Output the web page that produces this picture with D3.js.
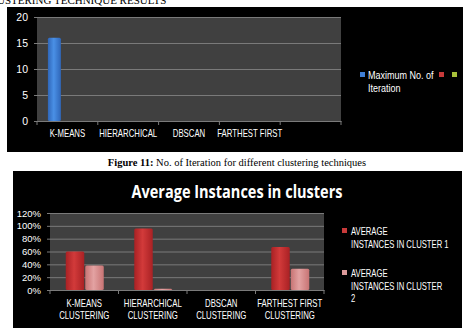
<!DOCTYPE html>
<html>
<head>
<meta charset="utf-8">
<script src="https://cdn.jsdelivr.net/npm/d3@7"></script>
<style>
  body { margin: 0; background: #fff; }
  svg { display: block; }
  .axis path, .axis line { stroke: #7a7a7a; }
  .axis text { fill: #fff; font-family: "Liberation Sans", Arial, sans-serif; }
</style>
</head>
<body>
<div class="chart"></div>
<script>
// Chart data.
const iterCategories = ["K-MEANS", "HIERARCHICAL", "DBSCAN", "FARTHEST FIRST", " "];
const iterValues = [16, 0, 0, 0, 0];
const iterTicks = [0, 5, 10, 15, 20];
const iterLegend = ["Maximum No. of", "Iteration"];

const clusterCategories = [
  ["K-MEANS", "CLUSTERING"],
  ["HIERARCHICAL", "CLUSTERING"],
  ["DBSCAN", "CLUSTERING"],
  ["FARTHEST FIRST", "CLUSTERING"],
];
const cluster1Values = [60, 96, 0, 67];
const cluster2Values = [38, 2, 0, 33];
const clusterTicks = [0, 20, 40, 60, 80, 100, 120];
const clusterLegend = [
  ["AVERAGE", "INSTANCES IN CLUSTER 1"],
  ["AVERAGE", "INSTANCES IN CLUSTER", "2"],
];

const FONT = '"Liberation Sans", Arial, sans-serif';
const W = 470, H = 328;
const svg = d3.select(".chart").append("svg").attr("width", W).attr("height", H);

// The original font is narrow (Calibri), so squeeze the text horizontally.
function squeezeText(g, x, y, str, k) {
  return g.append("text")
    .attr("transform", `translate(${x},${y}) scale(${k},1)`)
    .text(str);
}

// Gradients for bars.
const defs = svg.append("defs");
function grad(id, dark, light) {
  const g = defs.append("linearGradient").attr("id", id).attr("x1", 0).attr("x2", 1);
  g.append("stop").attr("offset", "0%").attr("stop-color", dark);
  g.append("stop").attr("offset", "45%").attr("stop-color", light);
  g.append("stop").attr("offset", "100%").attr("stop-color", dark);
}
grad("gBlue", "#2f66b8", "#4a90e6");
grad("gRed", "#a92124", "#d23a3a");
grad("gPink", "#c87474", "#e3a2a2");

// Page text.
svg.append("text")
  .attr("x", -3).attr("y", 4)
  .attr("font-family", "Liberation Serif, serif")
  .attr("font-size", 11)
  .text("USTERING TECHNIQUE RESULTS");

const cap = svg.append("text")
  .attr("x", 237).attr("y", 166)
  .attr("text-anchor", "middle")
  .attr("font-family", "Liberation Serif, serif")
  .attr("font-size", 10.5);
cap.append("tspan").attr("font-weight", "bold").text("Figure 11:");
cap.append("tspan").text(" No. of Iteration for different clustering techniques");

// ---- Chart 1: iterations ----
svg.append("rect").attr("x", 7).attr("y", 7).attr("width", 456).attr("height", 145).attr("fill", "#000");

const x1 = d3.scaleBand().domain(iterCategories).range([37, 341]);
const y1 = d3.scaleLinear().domain([0, 20]).range([121, 17]);

svg.append("rect")
  .attr("x", 37).attr("y", y1(20))
  .attr("width", 341 - 37).attr("height", y1(0) - y1(20))
  .attr("fill", "#404040");

const yAxis1 = svg.append("g").attr("class", "axis")
  .attr("transform", "translate(37,0)")
  .call(d3.axisLeft(y1).tickValues(iterTicks).tickSize(3).tickPadding(6));
yAxis1.selectAll(".tick line").clone().attr("x1", 0).attr("x2", 341 - 37);
yAxis1.select(".domain").remove();
yAxis1.selectAll("text").attr("font-size", 10.5);

const xAxis1 = svg.append("g").attr("class", "axis")
  .attr("transform", `translate(0,${y1(0)})`)
  .call(d3.axisBottom(x1).tickSizeOuter(0).tickSize(0).tickPadding(9));
xAxis1.selectAll("text").attr("font-size", 10).attr("transform", "scale(0.78,1)");
xAxis1.select(".domain").attr("stroke", "#8a8a8a");
// band boundary ticks
xAxis1.selectAll(".sep").data(d3.range(iterCategories.length + 1)).enter().append("line")
  .attr("x1", (d) => x1.range()[0] + d * x1.step())
  .attr("x2", (d) => x1.range()[0] + d * x1.step())
  .attr("y1", 0).attr("y2", 4).attr("stroke", "#8a8a8a");

const bw1 = 13;
svg.selectAll(".ibar").data(iterValues).enter().append("rect")
  .attr("class", "ibar")
  .attr("x", (d, i) => x1(iterCategories[i]) + (x1.bandwidth() - 3 * bw1) / 2)
  .attr("y", (d) => y1(d))
  .attr("width", bw1)
  .attr("height", (d) => y1(0) - y1(d))
  .attr("rx", 1.5)
  .attr("fill", "url(#gBlue)");

// Legend 1
const leg1 = svg.append("g").attr("font-family", FONT).attr("font-size", 10).attr("fill", "#fff");
leg1.append("rect").attr("x", 360).attr("y", 72).attr("width", 5).attr("height", 5).attr("fill", "#3f7fd6");
squeezeText(leg1, 368, 79, iterLegend[0], 0.9);
leg1.append("rect").attr("x", 439).attr("y", 72).attr("width", 5).attr("height", 5).attr("fill", "#c83a3a");
leg1.append("rect").attr("x", 452).attr("y", 72).attr("width", 5).attr("height", 5).attr("fill", "#a8c13a");
squeezeText(leg1, 368, 92, iterLegend[1], 0.9);

// ---- Chart 2: average instances ----
svg.append("rect").attr("x", 13).attr("y", 171).attr("width", 449).attr("height", 157).attr("fill", "#000");

svg.append("text")
  .attr("x", 237).attr("y", 198)
  .attr("text-anchor", "middle")
  .attr("font-family", "Open Sans, sans-serif")
  .attr("font-weight", "bold")
  .attr("font-size", 17)
  .attr("textLength", 211)
  .attr("lengthAdjust", "spacingAndGlyphs")
  .attr("fill", "#fff")
  .text("Average Instances in clusters");

const x2 = d3.scaleBand().domain(d3.range(clusterCategories.length)).range([50, 324]);
const y2 = d3.scaleLinear().domain([0, 120]).range([290, 213]);

svg.append("rect")
  .attr("x", 50).attr("y", y2(120))
  .attr("width", 324 - 50).attr("height", y2(0) - y2(120))
  .attr("fill", "#404040");

const yAxis2 = svg.append("g").attr("class", "axis")
  .attr("transform", "translate(50,0)")
  .call(d3.axisLeft(y2).tickValues(clusterTicks).tickSize(3).tickPadding(6).tickFormat((d) => d + "%"));
yAxis2.selectAll(".tick line").clone().attr("x1", 0).attr("x2", 324 - 50);
yAxis2.select(".domain").remove();
yAxis2.selectAll("text").attr("font-size", 9.5);

const xAxis2 = svg.append("g").attr("class", "axis")
  .attr("transform", `translate(0,${y2(0)})`)
  .call(d3.axisBottom(x2).tickSizeOuter(0).tickSize(0).tickFormat(""));
xAxis2.select(".domain").attr("stroke", "#8a8a8a");
xAxis2.selectAll(".sep").data(d3.range(clusterCategories.length + 1)).enter().append("line")
  .attr("x1", (d) => x2.range()[0] + d * x2.step())
  .attr("x2", (d) => x2.range()[0] + d * x2.step())
  .attr("y1", 0).attr("y2", 4).attr("stroke", "#8a8a8a");
xAxis2.selectAll(".tick").each(function (d) {
  const t = d3.select(this).select("text").text(null)
    .attr("y", null).attr("dy", null).attr("font-size", 10)
    .attr("transform", "scale(0.78,1)");
  clusterCategories[d].forEach((s, k) => {
    t.append("tspan").attr("x", 0).attr("y", 17 + k * 12).text(s);
  });
});

const bw2 = 18.5;
const off2 = (x2.bandwidth() - 2 * bw2) / 2;
svg.selectAll(".c1").data(cluster1Values).enter().append("rect")
  .attr("x", (d, i) => x2(i) + off2)
  .attr("y", (d) => y2(d))
  .attr("width", bw2)
  .attr("height", (d) => y2(0) - y2(d))
  .attr("rx", 1.5)
  .attr("fill", "url(#gRed)");
svg.selectAll(".c2").data(cluster2Values).enter().append("rect")
  .attr("x", (d, i) => x2(i) + off2 + bw2 + 1)
  .attr("y", (d) => y2(d))
  .attr("width", bw2)
  .attr("height", (d) => y2(0) - y2(d))
  .attr("rx", 1.5)
  .attr("fill", "url(#gPink)");

// Legend 2
const leg2 = svg.append("g").attr("font-family", FONT).attr("font-size", 10).attr("fill", "#fff");
const legColors = ["#c83a3a", "#dc9a9a"];
const legTop = [235, 277];
clusterLegend.forEach((lines, i) => {
  leg2.append("rect").attr("x", 342).attr("y", legTop[i] - 7).attr("width", 5).attr("height", 5).attr("fill", legColors[i]);
  lines.forEach((s, k) => squeezeText(leg2, 351, legTop[i] + k * 12.5, s, 0.77));
});
</script>
</body>
</html>
